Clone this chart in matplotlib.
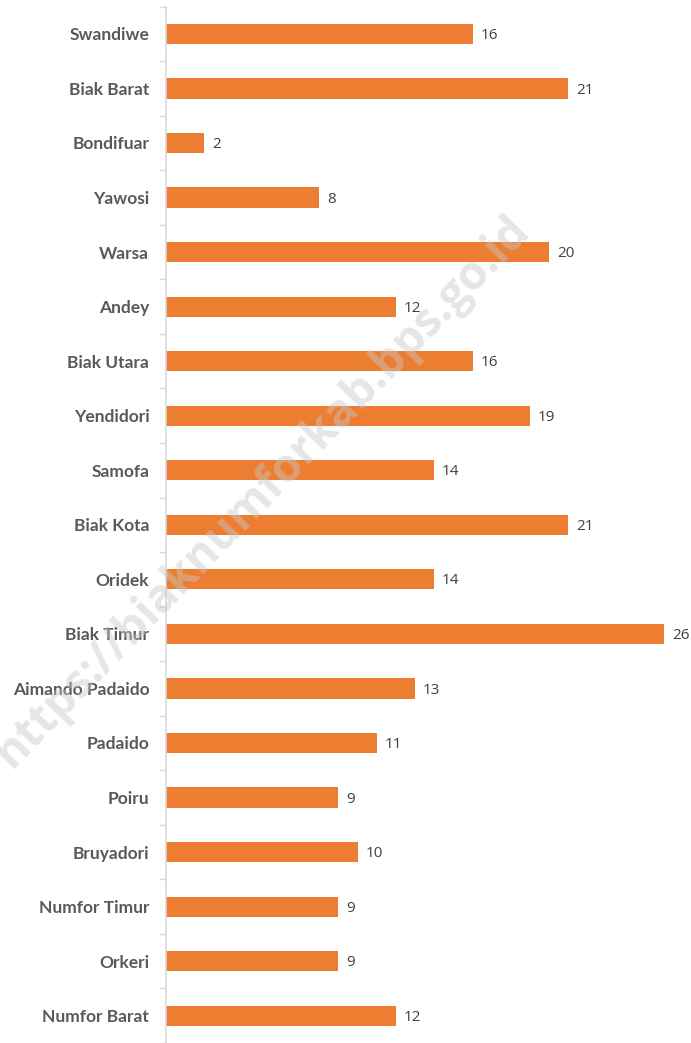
import matplotlib.pyplot as plt
import numpy as np

districts = ['Swandiwe', 'Biak Barat', 'Bondifuar', 'Yawosi', 'Warsa', 'Andey',
             'Biak Utara', 'Yendidori', 'Samofa', 'Biak Kota', 'Oridek',
             'Biak Timur', 'Aimando Padaido', 'Padaido', 'Poiru', 'Bruyadori',
             'Numfor Timur', 'Orkeri', 'Numfor Barat']
counts = [16, 21, 2, 8, 20, 12, 16, 19, 14, 21, 14, 26, 13, 11, 9, 10, 9, 9, 12]

fig = plt.figure(figsize=(6.91, 10.43), dpi=100)
ax = fig.add_axes([166 / 691, 0, 525 / 691, 1 - 6.6 / 1043])

y = np.arange(len(districts))
ax.barh(y, counts, height=0.37, color='#ED7D31', zorder=2)

for yi, v in zip(y, counts):
    ax.text(v + 0.4, yi + 0.03, str(v), va='center', ha='left', fontsize=11,
            color='#404040', family='Open Sans')

ax.set_xlim(0, 27.4)
ax.set_ylim(18.35, -0.5)
ax.set_yticks(y)
ax.set_yticklabels(districts, fontsize=12.5, fontweight='bold', color='#595959',
                   family='Lato')
ax.set_yticks(np.arange(-0.5, len(districts), 1), minor=True)
ax.tick_params(axis='y', which='major', length=0, pad=12)
ax.tick_params(axis='y', which='minor', length=5, color='#d9d9d9', width=1)
ax.set_xticks([])

for side in ['top', 'right', 'bottom']:
    ax.spines[side].set_visible(False)
ax.spines['left'].set_color('#d9d9d9')
ax.spines['left'].set_linewidth(1.2)

# site watermark across the plot
fig.text(262 / 691, 1 - 492 / 1043, 'https://biaknumforkab.bps.go.id',
         rotation=46, ha='center', va='center', fontsize=33,
         fontweight='bold', color='#c8c8c8', alpha=0.45, family='Open Sans',
         zorder=0)

fig.savefig('out.png', dpi=100)
